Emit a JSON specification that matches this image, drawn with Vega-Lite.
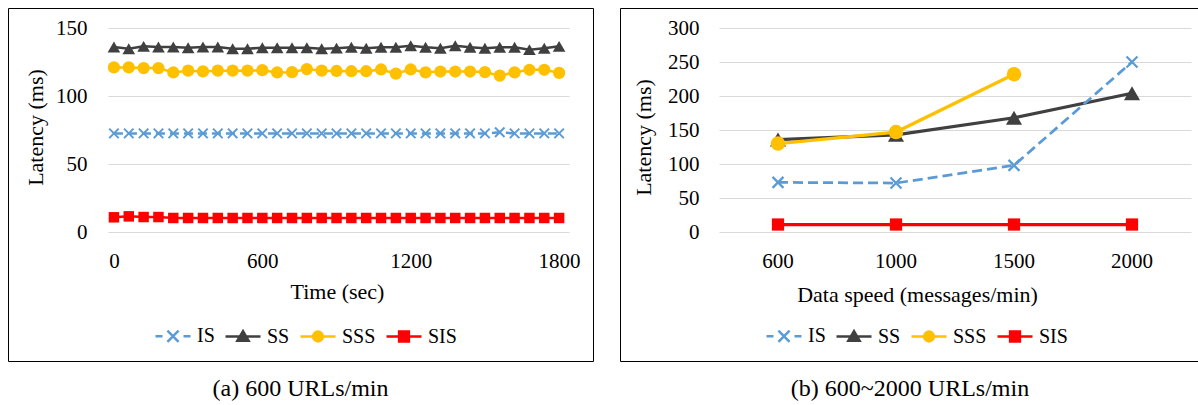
{
  "$schema": "https://vega.github.io/schema/vega-lite/v6.json",
  "padding": {"left": 7, "top": 7, "right": 0, "bottom": 0},
  "autosize": {"type": "pad"},
  "background": "white",
  "spacing": 25,
  "config": {
    "view": {"stroke": "#000", "strokeWidth": 1},
    "font": "Liberation Serif",
    "axis": {"domain": false, "ticks": false, "tickSize": 0, "gridColor": "#D9D9D9", "gridWidth": 1, "labelFont": "Liberation Serif", "labelFontSize": 21, "labelColor": "#000", "titleFont": "Liberation Serif", "titleFontSize": 22, "titleFontWeight": "normal", "titleColor": "#000"},
    "legend": {"labelFont": "Liberation Serif", "labelFontSize": 20, "labelColor": "#000", "labelOffset": 5, "columnPadding": 5, "symbolSize": 1225, "symbolStrokeWidth": 2.5, "padding": 0}
  },
  "datasets": {
    "left": [
      {"t":0,"s":"IS","v":72.5},{"t":60,"s":"IS","v":72.5},{"t":120,"s":"IS","v":72.5},{"t":180,"s":"IS","v":72.5},{"t":240,"s":"IS","v":72.5},{"t":300,"s":"IS","v":72.5},{"t":360,"s":"IS","v":72.5},{"t":420,"s":"IS","v":72.5},{"t":480,"s":"IS","v":72.5},{"t":540,"s":"IS","v":72.5},{"t":600,"s":"IS","v":72.5},{"t":660,"s":"IS","v":72.5},{"t":720,"s":"IS","v":72.5},{"t":780,"s":"IS","v":72.5},{"t":840,"s":"IS","v":72.5},{"t":900,"s":"IS","v":72.5},{"t":960,"s":"IS","v":72.5},{"t":1020,"s":"IS","v":72.5},{"t":1080,"s":"IS","v":72.5},{"t":1140,"s":"IS","v":72.5},{"t":1200,"s":"IS","v":72.5},{"t":1260,"s":"IS","v":72.5},{"t":1320,"s":"IS","v":72.5},{"t":1380,"s":"IS","v":72.5},{"t":1440,"s":"IS","v":72.5},{"t":1500,"s":"IS","v":72.5},{"t":1560,"s":"IS","v":73.3},{"t":1620,"s":"IS","v":72.5},{"t":1680,"s":"IS","v":72.5},{"t":1740,"s":"IS","v":72.5},{"t":1800,"s":"IS","v":72.5},
      {"t":0,"s":"SS","v":136},{"t":60,"s":"SS","v":134.8},{"t":120,"s":"SS","v":136.5},{"t":180,"s":"SS","v":136},{"t":240,"s":"SS","v":136},{"t":300,"s":"SS","v":135.5},{"t":360,"s":"SS","v":136},{"t":420,"s":"SS","v":136},{"t":480,"s":"SS","v":134.8},{"t":540,"s":"SS","v":134.8},{"t":600,"s":"SS","v":135.5},{"t":660,"s":"SS","v":135.5},{"t":720,"s":"SS","v":135.5},{"t":780,"s":"SS","v":135.5},{"t":840,"s":"SS","v":134.8},{"t":900,"s":"SS","v":135.2},{"t":960,"s":"SS","v":135.8},{"t":1020,"s":"SS","v":135.1},{"t":1080,"s":"SS","v":135.8},{"t":1140,"s":"SS","v":135.8},{"t":1200,"s":"SS","v":137},{"t":1260,"s":"SS","v":135.8},{"t":1320,"s":"SS","v":135.1},{"t":1380,"s":"SS","v":137},{"t":1440,"s":"SS","v":135.8},{"t":1500,"s":"SS","v":135.1},{"t":1560,"s":"SS","v":135.8},{"t":1620,"s":"SS","v":135.8},{"t":1680,"s":"SS","v":134.1},{"t":1740,"s":"SS","v":135.1},{"t":1800,"s":"SS","v":136.5},
      {"t":0,"s":"SSS","v":121},{"t":60,"s":"SSS","v":121},{"t":120,"s":"SSS","v":120.5},{"t":180,"s":"SSS","v":120.5},{"t":240,"s":"SSS","v":117.3},{"t":300,"s":"SSS","v":118.6},{"t":360,"s":"SSS","v":118.1},{"t":420,"s":"SSS","v":118.6},{"t":480,"s":"SSS","v":118.6},{"t":540,"s":"SSS","v":118.6},{"t":600,"s":"SSS","v":119},{"t":660,"s":"SSS","v":117.3},{"t":720,"s":"SSS","v":117.5},{"t":780,"s":"SSS","v":119.8},{"t":840,"s":"SSS","v":118.6},{"t":900,"s":"SSS","v":118.4},{"t":960,"s":"SSS","v":118.2},{"t":1020,"s":"SSS","v":118.2},{"t":1080,"s":"SSS","v":119.5},{"t":1140,"s":"SSS","v":116.5},{"t":1200,"s":"SSS","v":119.5},{"t":1260,"s":"SSS","v":117.4},{"t":1320,"s":"SSS","v":118},{"t":1380,"s":"SSS","v":118},{"t":1440,"s":"SSS","v":118},{"t":1500,"s":"SSS","v":117.6},{"t":1560,"s":"SSS","v":115},{"t":1620,"s":"SSS","v":117.4},{"t":1680,"s":"SSS","v":119.3},{"t":1740,"s":"SSS","v":119.3},{"t":1800,"s":"SSS","v":117},
      {"t":0,"s":"SIS","v":10.8},{"t":60,"s":"SIS","v":11.5},{"t":120,"s":"SIS","v":11},{"t":180,"s":"SIS","v":11},{"t":240,"s":"SIS","v":10.3},{"t":300,"s":"SIS","v":10.3},{"t":360,"s":"SIS","v":10.3},{"t":420,"s":"SIS","v":10.3},{"t":480,"s":"SIS","v":10.3},{"t":540,"s":"SIS","v":10.3},{"t":600,"s":"SIS","v":10.3},{"t":660,"s":"SIS","v":10.3},{"t":720,"s":"SIS","v":10.3},{"t":780,"s":"SIS","v":10.3},{"t":840,"s":"SIS","v":10.3},{"t":900,"s":"SIS","v":10.3},{"t":960,"s":"SIS","v":10.3},{"t":1020,"s":"SIS","v":10.3},{"t":1080,"s":"SIS","v":10.3},{"t":1140,"s":"SIS","v":10.3},{"t":1200,"s":"SIS","v":10.3},{"t":1260,"s":"SIS","v":10.3},{"t":1320,"s":"SIS","v":10.3},{"t":1380,"s":"SIS","v":10.3},{"t":1440,"s":"SIS","v":10.3},{"t":1500,"s":"SIS","v":10.3},{"t":1560,"s":"SIS","v":10.3},{"t":1620,"s":"SIS","v":10.3},{"t":1680,"s":"SIS","v":10.3},{"t":1740,"s":"SIS","v":10.3},{"t":1800,"s":"SIS","v":10.3}
    ],
    "right": [
      {"speed":600,"s":"IS","v":73},{"speed":1000,"s":"IS","v":72},{"speed":1500,"s":"IS","v":98},{"speed":2000,"s":"IS","v":250},
      {"speed":600,"s":"SS","v":136},{"speed":1000,"s":"SS","v":143},{"speed":1500,"s":"SS","v":168},{"speed":2000,"s":"SS","v":204},
      {"speed":600,"s":"SSS","v":130},{"speed":1000,"s":"SSS","v":147},{"speed":1500,"s":"SSS","v":232},
      {"speed":600,"s":"SIS","v":11},{"speed":1000,"s":"SIS","v":11},{"speed":1500,"s":"SIS","v":11},{"speed":2000,"s":"SIS","v":11}
    ]
  },
  "resolve": {"scale": {"x": "independent", "y": "independent", "color": "independent"}, "legend": {"color": "independent"}},
  "hconcat": [
    {
      "width": 585,
      "height": 353,
      "title": {"text": "(a) 600 URLs/min", "orient": "bottom", "anchor": "middle", "font": "Liberation Serif", "fontSize": 24, "fontWeight": "normal", "color": "#000", "baseline": "alphabetic", "offset": 35},
      "data": {"name": "left"},
      "encoding": {
        "x": {"field": "t", "type": "quantitative", "scale": {"domain": [-24, 1840], "range": [100, 561], "nice": false, "zero": false}, "axis": {"values": [0, 600, 1200, 1800], "format": "d", "grid": false, "offset": -129, "labelPadding": 35, "labelBaseline": "alphabetic", "labelFlush": false, "title": "Time (sec)", "titleX": 329, "titleY": 66, "titleBaseline": "alphabetic"}},
        "y": {"field": "v", "type": "quantitative", "scale": {"domain": [0, 150], "range": [224, 20], "nice": false}, "axis": {"values": [0, 50, 100, 150], "offset": -100, "labelPadding": 21, "title": "Latency (ms)", "titleX": -73, "titleY": 119, "titleBaseline": "middle"}}
      },
      "layer": [
        {"transform": [{"filter": "datum.s !== 'IS'"}],
         "mark": {"type": "line", "strokeWidth": 2.5},
         "encoding": {"color": {"field": "s", "type": "nominal", "scale": {"domain": ["IS", "SS", "SSS", "SIS"], "range": ["#5B9BD5", "#404040", "#FFC000", "#FF0000"]},
          "legend": {"orient": "none", "legendX": 146, "legendY": 309, "direction": "horizontal", "title": null,
            "encode": {"symbols": {"update": {
              "shape": {"signal": "datum.value === 'IS' ? 'M-1,0H-0.6M0.6,0H1M-0.32,-0.32L0.32,0.32M-0.32,0.32L0.32,-0.32' : datum.value === 'SS' ? 'M-1,0H1M-0.32,0.24L0,-0.3L0.32,0.24Z' : datum.value === 'SSS' ? 'M-1,0H1M0.28,0A0.28,0.28,0,1,1,-0.28,0A0.28,0.28,0,1,1,0.28,0Z' : 'M-1,0H1M-0.28,-0.28H0.28V0.28H-0.28Z'"},
              "fill": {"signal": "datum.value === 'IS' ? '#5B9BD5' : datum.value === 'SS' ? '#404040' : datum.value === 'SSS' ? '#FFC000' : '#FF0000'"},
              "stroke": {"signal": "datum.value === 'IS' ? '#5B9BD5' : datum.value === 'SS' ? '#404040' : datum.value === 'SSS' ? '#FFC000' : '#FF0000'"},
              "strokeWidth": {"value": 2.5},
              "strokeDash": {"value": []},
              "opacity": {"value": 1},
              "size": {"value": 1225}
            }}}}}}},
        {"transform": [{"filter": "datum.s === 'IS'"}],
         "mark": {"type": "line", "strokeWidth": 2.5, "color": "#5B9BD5", "strokeDash": [9, 5]}},
        {"transform": [{"filter": "datum.s === 'IS'"}],
         "mark": {"type": "point", "shape": "M-1,-1L1,1M-1,1L1,-1", "size": 90, "filled": false, "color": "#5B9BD5", "strokeWidth": 2, "opacity": 1}},
        {"transform": [{"filter": "datum.s === 'SS'"}],
         "mark": {"type": "point", "shape": "triangle-up", "size": 160, "filled": true, "color": "#404040", "opacity": 1}},
        {"transform": [{"filter": "datum.s === 'SSS'"}],
         "mark": {"type": "point", "shape": "circle", "size": 150, "filled": true, "color": "#FFC000", "opacity": 1}},
        {"transform": [{"filter": "datum.s === 'SIS'"}],
         "mark": {"type": "point", "shape": "square", "size": 110, "filled": true, "color": "#FF0000", "opacity": 1}}
      ]
    },
    {
      "width": 580,
      "height": 353,
      "title": {"text": "(b) 600~2000 URLs/min", "orient": "bottom", "anchor": "middle", "font": "Liberation Serif", "fontSize": 24, "fontWeight": "normal", "color": "#000", "baseline": "alphabetic", "offset": 35},
      "data": {"name": "right"},
      "encoding": {
        "x": {"field": "speed", "type": "ordinal", "bandPosition": 0.5, "scale": {"type": "band", "range": [99, 571], "paddingInner": 0, "paddingOuter": 0}, "axis": {"grid": false, "labelAngle": 0, "offset": -129, "labelPadding": 35, "labelBaseline": "alphabetic", "title": "Data speed (messages/min)", "titleX": 297, "titleY": 69, "titleBaseline": "alphabetic"}},
        "y": {"field": "v", "type": "quantitative", "scale": {"domain": [0, 300], "range": [224, 20], "nice": false}, "axis": {"values": [0, 50, 100, 150, 200, 250, 300], "offset": -100, "labelPadding": 21, "title": "Latency (ms)", "titleX": -77, "titleY": 129, "titleBaseline": "middle"}}
      },
      "layer": [
        {"transform": [{"filter": "datum.s !== 'IS'"}],
         "mark": {"type": "line", "strokeWidth": 3.25},
         "encoding": {"color": {"field": "s", "type": "nominal", "scale": {"domain": ["IS", "SS", "SSS", "SIS"], "range": ["#5B9BD5", "#404040", "#FFC000", "#FF0000"]},
          "legend": {"orient": "none", "legendX": 145, "legendY": 309, "direction": "horizontal", "title": null,
            "encode": {"symbols": {"update": {
              "shape": {"signal": "datum.value === 'IS' ? 'M-1,0H-0.6M0.6,0H1M-0.32,-0.32L0.32,0.32M-0.32,0.32L0.32,-0.32' : datum.value === 'SS' ? 'M-1,0H1M-0.32,0.24L0,-0.3L0.32,0.24Z' : datum.value === 'SSS' ? 'M-1,0H1M0.28,0A0.28,0.28,0,1,1,-0.28,0A0.28,0.28,0,1,1,0.28,0Z' : 'M-1,0H1M-0.28,-0.28H0.28V0.28H-0.28Z'"},
              "fill": {"signal": "datum.value === 'IS' ? '#5B9BD5' : datum.value === 'SS' ? '#404040' : datum.value === 'SSS' ? '#FFC000' : '#FF0000'"},
              "stroke": {"signal": "datum.value === 'IS' ? '#5B9BD5' : datum.value === 'SS' ? '#404040' : datum.value === 'SSS' ? '#FFC000' : '#FF0000'"},
              "strokeWidth": {"value": 2.5},
              "strokeDash": {"value": []},
              "opacity": {"value": 1},
              "size": {"value": 1225}
            }}}}}}},
        {"transform": [{"filter": "datum.s === 'IS'"}],
         "mark": {"type": "line", "strokeWidth": 2.75, "color": "#5B9BD5", "strokeDash": [10, 5]}},
        {"transform": [{"filter": "datum.s === 'IS'"}],
         "mark": {"type": "point", "shape": "M-1,-1L1,1M-1,1L1,-1", "size": 120, "filled": false, "color": "#5B9BD5", "strokeWidth": 2.25, "opacity": 1}},
        {"transform": [{"filter": "datum.s === 'SS'"}],
         "mark": {"type": "point", "shape": "triangle-up", "size": 260, "filled": true, "color": "#404040", "opacity": 1}},
        {"transform": [{"filter": "datum.s === 'SSS'"}],
         "mark": {"type": "point", "shape": "circle", "size": 210, "filled": true, "color": "#FFC000", "opacity": 1}},
        {"transform": [{"filter": "datum.s === 'SIS'"}],
         "mark": {"type": "point", "shape": "square", "size": 150, "filled": true, "color": "#FF0000", "opacity": 1}}
      ]
    }
  ]
}
